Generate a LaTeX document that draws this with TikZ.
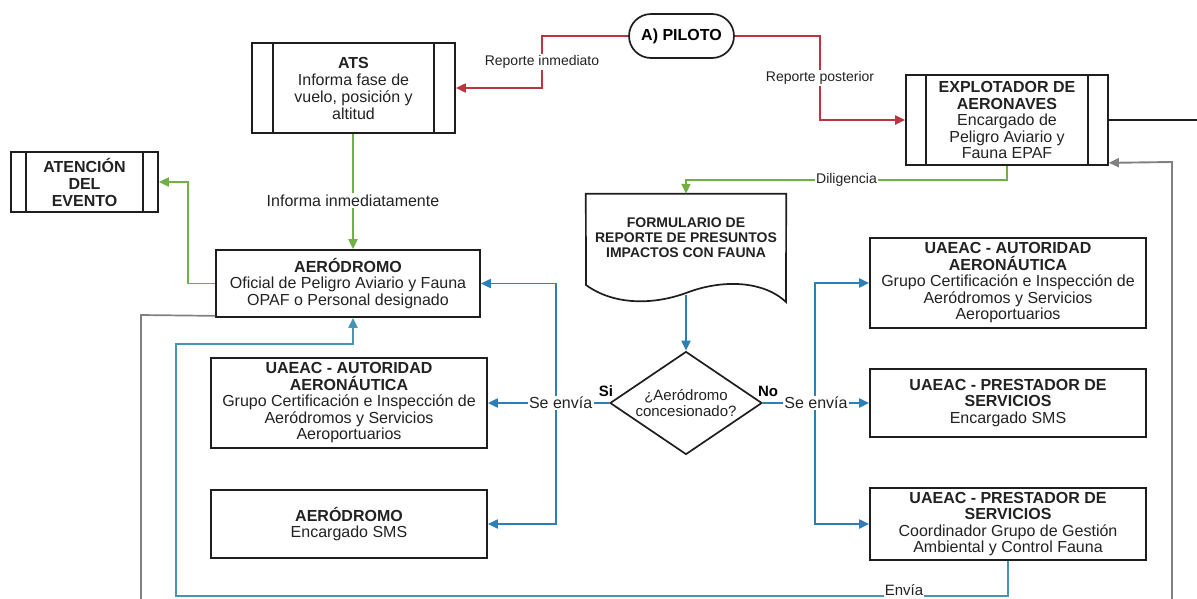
\documentclass[tikz,border=0pt]{standalone}
\usepackage{fontspec}
\setmainfont{Liberation Sans}
\usetikzlibrary{arrows.meta,shapes.geometric,calc}
\definecolor{redc}{HTML}{BA3540}
\definecolor{greenc}{HTML}{72B043}
\definecolor{bluec}{HTML}{2E7FB3}
\definecolor{tealc}{HTML}{4596B3}
\definecolor{grayc}{HTML}{808080}
\definecolor{txtc}{HTML}{222222}
\definecolor{edgec}{HTML}{1E1E1E}
\begin{document}
\begin{tikzpicture}[x=1pt,y=-1pt,
  box/.style={draw=edgec, line width=1.7pt, fill=white, align=center, text=txtc, inner sep=2pt,
    font=\fontsize{16}{16.5}\selectfont},
  subproc/.style={box, path picture={\draw[line width=1.7pt,edgec]
      ([xshift=#1]path picture bounding box.north west) -- ([xshift=#1]path picture bounding box.south west)
      ([xshift=-#1]path picture bounding box.north east) -- ([xshift=-#1]path picture bounding box.south east);}},
  conn/.style={line width=1.9pt, -{Triangle[length=10pt,width=9pt]}},
  plain/.style={line width=1.7pt},
  lbl/.style={fill=white, inner sep=1.5pt, text=txtc, font=\fontsize{14}{14}\selectfont},
  lblb/.style={fill=white, inner sep=1.5pt, text=txtc, font=\fontsize{16}{16}\selectfont},
  yesno/.style={inner sep=0pt, text=black, font=\bfseries\fontsize{15}{15}\selectfont}
]
\useasboundingbox (0,0) rectangle (1197,598);
\clip (0,0) rectangle (1197,598);

% ---------- nodes ----------
\node[box, rounded corners=22pt, minimum width=105pt, minimum height=44pt,
      font=\bfseries\fontsize{16}{16}\selectfont, text=black] (pil) at (681.5,36) {A) PILOTO};

\node[subproc=21pt, minimum width=203pt, minimum height=90pt, font=\fontsize{16}{17}\selectfont] (ats) at (353.5,88)
  {\textbf{ATS}\\Informa fase de\\vuelo, posición y\\altitud};

\node[subproc=15pt, minimum width=147pt, minimum height=60pt,
      font=\bfseries\fontsize{16}{17}\selectfont] (aten) at (84.5,182) {ATENCIÓN\\DEL\\EVENTO};

\node[subproc=20pt, minimum width=202pt, minimum height=90pt] (expl) at (1007,120)
  {\textbf{EXPLOTADOR DE}\\\textbf{AERONAVES}\\Encargado de\\Peligro Aviario y\\Fauna EPAF};

\node[box, minimum width=264pt, minimum height=67pt] (aer1) at (348,283.5)
  {\textbf{AERÓDROMO}\\Oficial de Peligro Aviario y Fauna\\OPAF o Personal designado};

\node[box, minimum width=276pt, minimum height=90pt] (ual) at (349,403)
  {\textbf{UAEAC - AUTORIDAD}\\\textbf{AERONÁUTICA}\\Grupo Certificación e Inspección de\\Aeródromos y Servicios\\Aeroportuarios};

\node[box, minimum width=276pt, minimum height=68pt] (aers) at (349,524)
  {\textbf{AERÓDROMO}\\Encargado SMS};

\node[box, minimum width=276pt, minimum height=90pt] (uar) at (1008,283)
  {\textbf{UAEAC - AUTORIDAD}\\\textbf{AERONÁUTICA}\\Grupo Certificación e Inspección de\\Aeródromos y Servicios\\Aeroportuarios};

\node[box, minimum width=276pt, minimum height=68pt] (pres) at (1008,403)
  {\textbf{UAEAC - PRESTADOR DE}\\\textbf{SERVICIOS}\\Encargado SMS};

\node[box, minimum width=276pt, minimum height=72pt] (coord) at (1008,524)
  {\textbf{UAEAC - PRESTADOR DE}\\\textbf{SERVICIOS}\\Coordinador Grupo de Gestión\\Ambiental y Control Fauna};

% document shape
\node[minimum width=200pt, minimum height=101pt, inner sep=0pt] (doc) at (686,244.5) {};
\draw[line width=1.7pt, draw=edgec, fill=white] (doc.north west) -- (doc.north east) -- (786,302)
  .. controls (765,282) and (725,278) .. (686,293)
  .. controls (650,306) and (612,304) .. (586,285) -- cycle;
\node[align=center, text=txtc, font=\bfseries\fontsize{14}{15}\selectfont] (doct) at (686,238)
  {FORMULARIO DE\\REPORTE DE PRESUNTOS\\IMPACTOS CON FAUNA};

\node[draw=edgec, line width=1.7pt, fill=white, diamond, shape aspect=1.5, minimum width=152pt,
      minimum height=103pt, inner sep=0pt, align=center, text=txtc,
      font=\fontsize{15}{15.5}\selectfont] (dia) at (686,403) {¿Aeródromo\\concesionado?};

\node[yesno] (si) at (606,391) {Si};
\node[yesno] (no) at (768,391) {No};

% ---------- connectors ----------
\draw[conn, redc] (pil.west) -- (542,36) -- node[lbl]{Reporte inmediato} (542,88) -- (ats.east);
\draw[conn, redc] (pil.east) -- (820,36) -- node[lbl]{Reporte posterior} (820,120) -- (expl.west);

\coordinate (atsb) at ($(ats.south)+(-0.5,0)$);
\draw[conn, greenc] (atsb) -- node[lblb, pos=0.58]{Informa inmediatamente} (atsb |- aer1.north);
\draw[conn, greenc] (aer1.west) -- (188,283.5) -- (188,182) -- (aten.east);
\draw[conn, greenc] (expl.south) -- (1007,180) -- node[lbl]{Diligencia} (686,180) -- (doc.north);

\draw[conn, bluec] (doc.south) -- (dia.north);

\draw[conn, bluec] (556,403) |- (aer1.east);
\draw[conn, bluec] (556,403) |- (aers.east);
\draw[conn, bluec] (dia.west) -- node[lblb, pos=0.4]{Se envía} (ual.east);

\draw[conn, bluec] (815,403) |- (uar.west);
\draw[conn, bluec] (815,403) |- (coord.west);
\draw[conn, bluec] (dia.east) -- node[lblb, pos=0.5]{Se envía} (pres.west);

\draw[conn, tealc] (coord.south) -- (1008,596) -- (176,596)
  -- (176,344) -- (353,344) -- ($(aer1.south)+(5,0)$);
\node[fill=white, inner sep=1pt, text=txtc, font=\fontsize{15}{15}\selectfont, anchor=south] (envia) at (904,597) {Envía};

\coordinate (gb) at (141,600);
\draw[plain, grayc] ($(aer1.south west)+(0,-2)$) -- (141,315) -- (gb);
\coordinate (gr) at (1172,600);
\draw[conn, grayc] (gr) -- (1172,162) -- ($(expl.south east)+(0,-3)$);
\coordinate (br) at (1197,120);
\draw[plain, edgec] (expl.east) -- (br);
\end{tikzpicture}
\end{document}
